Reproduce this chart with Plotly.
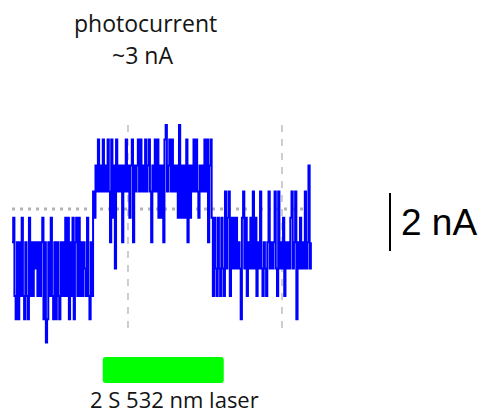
import numpy as np
import plotly.graph_objects as go

# Sampled photocurrent trace (nA, relative to the dark baseline), dt = 20 ms
dt = 0.02
dark_before = [
    -1.15, -0.3, -3.0, -3.8, -1.15, -3.8, -1.15, -3.0, -0.3, -3.0,
    -3.8, -1.15, -3.0, -3.8, -0.3, -3.0, -1.15, -3.0, -1.15, -2.05,
    -1.15, -3.0, -1.15, -3.0, -1.15, -0.3, -3.8, -1.15, -4.6, -3.8,
    -1.15, -3.0, -0.3, -3.0, -3.8, -1.15, -3.8, -1.15, -3.0, -3.8,
    -1.15, -3.0, -1.15, -3.0, -0.3, -3.0, -0.3, -3.8, -1.15, -3.0,
    -0.3, -3.8, -1.15, -0.3, -3.0, -0.3, -3.0, -1.15, -3.0, -1.15,
    -2.05, -3.0, -0.3, -3.0, -3.8, -1.15, -3.0,
]
illuminated = [
    0.6, -0.3, 1.5, 0.6, 2.4, 0.6, 1.5, 0.6, 2.4, 0.6,
    1.5, 0.6, 2.4, 0.6, -1.15, 2.4, -0.3, 1.5, -2.05, 2.4,
    0.6, 1.5, 0.6, 1.5, -1.15, 1.5, 0.6, 2.4, 0.6, 1.5,
    -0.3, 1.5, 2.4, -1.15, 1.5, 0.6, 1.5, 2.4, 0.6, 2.4,
    0.6, 1.5, 0.6, 2.4, 0.6, 1.5, 2.4, 0.6, -1.15, 1.5,
    0.6, 2.4, 0.6, 2.4, -0.3, 1.5, -0.3, 1.5, -1.15, 2.4,
    2.9, 0.6, 1.5, 2.4, 0.6, 2.4, 0.6, 1.5, 0.6, 1.5,
    -0.3, 2.9, -0.3, 1.5, -0.3, 1.5, -0.3, 2.4, -1.15, 1.5,
    -0.3, 1.5, 0.6, 2.4, 0.6, 2.4, 0.6, -0.3, 1.5, 0.6,
    1.5, 0.6, 2.4, 0.6, 2.4, -1.15, 1.5, 2.4,
]
dark_after = [
    -0.3, -3.0, -0.3, -2.05, -3.0, -0.3, -2.05, -3.0, -0.3, -2.05,
    -3.0, 0.6, -2.05, -0.3, 0.6, -3.0, -0.3, -2.05, -0.3, -2.05,
    -0.3, -2.05, -1.15, -2.05, -3.8, -0.3, 0.6, -2.05, -0.3, -3.0,
    -1.15, -2.05, -0.3, -2.05, 0.6, -2.05, -0.3, -3.0, -1.15, -2.05,
    0.6, -2.05, -3.0, -1.15, -2.05, -3.0, -1.15, 0.6, -2.05, -1.15,
    -2.05, -1.15, 0.6, -2.05, -3.0, 0.6, -2.05, -1.15, -2.05, -0.3,
    -3.0, -1.15, -2.05, -1.15, -2.05, -0.3, 0.6, -2.05, -1.15, 0.6,
    -3.8, -1.15, -2.05, -0.3, -2.05, -1.15, -2.05, 0.6, -2.05, -1.15,
    1.5, -2.05, -1.15,
]
current = dark_before + illuminated + dark_after
time = np.arange(len(current)) * dt

# Stimulus and annotation values
laser_on = 1.5          # s
laser_duration = 2.0    # s
scale_bar_nA = 2.0
marker_times = [1.917, 4.463]
baseline_end = 4.876

W, H = 481, 414
PX_PER_S = 60.5
PX_PER_NA = 29.0
X0_PX, Y0_PX = 12, 209

x_range = [-X0_PX / PX_PER_S, (W - X0_PX) / PX_PER_S]
y_range = [(Y0_PX - H) / PX_PER_NA, Y0_PX / PX_PER_NA]

fig = go.Figure()

# dotted baseline
fig.add_trace(go.Scatter(
    x=[0, baseline_end], y=[0, 0], mode="lines",
    line=dict(color="#b4b4b4", width=3, dash="3px,5px"),
    hoverinfo="skip", showlegend=False,
))

# dashed time markers
for tm in marker_times:
    fig.add_trace(go.Scatter(
        x=[tm, tm], y=[2.9, -4.2], mode="lines",
        line=dict(color="#c8c8c8", width=1.8, dash="7px,7px"),
        hoverinfo="skip", showlegend=False,
    ))

fig.add_trace(go.Scatter(
    x=time, y=current, mode="lines",
    line=dict(color="#0000ff", width=2.0, shape="hv", simplify=False),
    hoverinfo="skip", showlegend=False,
))

# laser stimulus bar with slightly rounded corners
x0, x1 = laser_on, laser_on + laser_duration
y0, y1 = -6.0, -5.1
rx, ry = 3 / PX_PER_S, 3 / PX_PER_NA
bar_path = (
    f"M {x0 + rx},{y1} L {x1 - rx},{y1} Q {x1},{y1} {x1},{y1 - ry} "
    f"L {x1},{y0 + ry} Q {x1},{y0} {x1 - rx},{y0} "
    f"L {x0 + rx},{y0} Q {x0},{y0} {x0},{y0 + ry} "
    f"L {x0},{y1 - ry} Q {x0},{y1} {x0 + rx},{y1} Z"
)
fig.add_shape(
    type="path", xref="x", yref="y", path=bar_path,
    fillcolor="#00ff00", line=dict(width=0), layer="above",
)

# vertical scale bar
sb_t = (390 - X0_PX) / PX_PER_S
fig.add_shape(
    type="line", xref="x", yref="y",
    x0=sb_t, x1=sb_t, y0=0.55, y1=0.55 - scale_bar_nA,
    line=dict(color="black", width=2),
)

txt_font = dict(family="Open Sans", size=23, color="#141414")
annotations = [
    dict(text="photocurrent", x=145, y=23, font=txt_font),
    dict(text="~3 nA", x=142, y=55, font=txt_font),
    dict(text="2 S 532 nm laser", x=174, y=399,
         font=dict(family="Open Sans", size=22, color="#141414")),
    dict(text="2 nA", x=439, y=222,
         font=dict(family="Liberation Sans", size=37, color="black")),
]
for a in annotations:
    fig.add_annotation(
        text=a["text"], x=a["x"] / W, y=1 - a["y"] / H,
        xref="paper", yref="paper", xanchor="center", yanchor="middle",
        showarrow=False, font=a["font"],
    )

fig.update_layout(
    width=W, height=H,
    margin=dict(l=0, r=0, t=0, b=0),
    paper_bgcolor="white", plot_bgcolor="white",
    xaxis=dict(range=x_range, visible=False, fixedrange=True),
    yaxis=dict(range=y_range, visible=False, fixedrange=True),
)

fig.write_html("out.html", config={"displayModeBar": False, "staticPlot": True})
